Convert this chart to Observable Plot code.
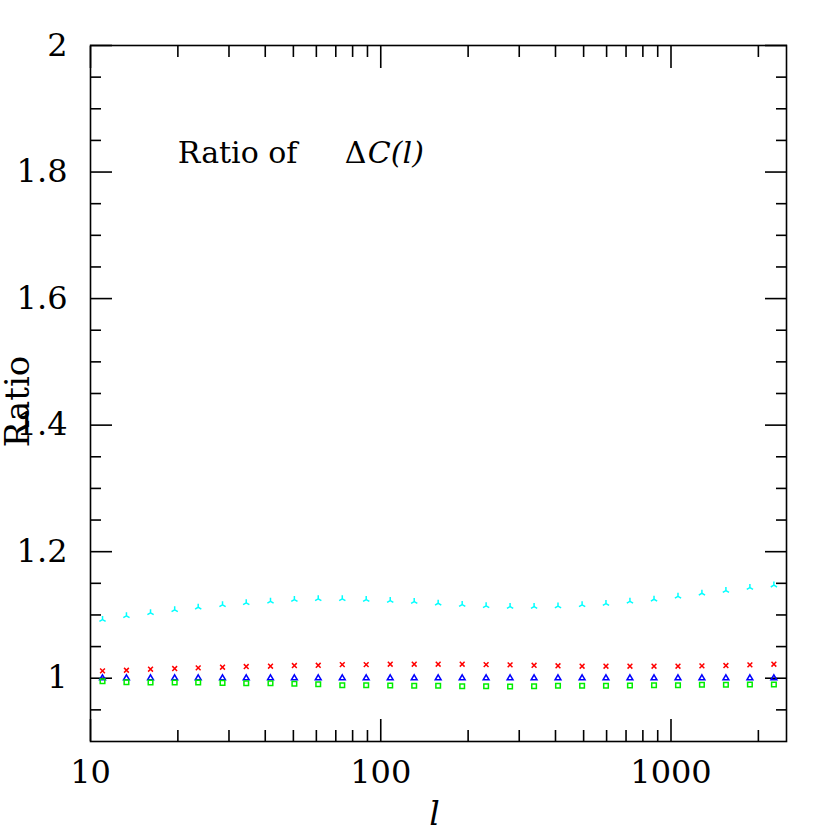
<!DOCTYPE html>
<html><head><meta charset="utf-8">
<script src="https://cdn.jsdelivr.net/npm/d3@7"></script>
<script src="https://cdn.jsdelivr.net/npm/@observablehq/plot@0.6"></script>
<style>body{margin:0;background:#fff;}</style>
</head><body><div id="chart"></div>
<script>
// multipole l values
const ells = [11, 13.3, 16.1, 19.5, 23.5, 28.5, 34.4, 41.7, 50.4, 60.9, 73.7, 89.1, 107.8, 130.4, 157.7, 190.8, 230.7, 279, 337.5, 408, 494, 597, 722, 874, 1057, 1278, 1546, 1870, 2262];
const ratioCyan = [1.0927, 1.0986, 1.1033, 1.108, 1.1122, 1.116, 1.1191, 1.1216, 1.1243, 1.1254, 1.1254, 1.1243, 1.1227, 1.1212, 1.1185, 1.1164, 1.1144, 1.1133, 1.1133, 1.114, 1.116, 1.118, 1.1216, 1.1248, 1.1295, 1.1343, 1.1385, 1.1433, 1.147];
const ratioRed = [1.0117, 1.0126, 1.0142, 1.0153, 1.0164, 1.0174, 1.0185, 1.019, 1.0201, 1.0205, 1.0216, 1.0216, 1.0221, 1.0221, 1.0221, 1.0221, 1.0216, 1.0212, 1.0205, 1.0197, 1.019, 1.019, 1.019, 1.019, 1.019, 1.0196, 1.0201, 1.0212, 1.0221];
const ratioBlue = [1.001, 1.001, 1.001, 1.001, 1.001, 1.001, 1.001, 1.001, 1.001, 1.001, 1.001, 1.001, 1.001, 1.001, 1.001, 1.001, 1.001, 1.001, 1.001, 1.001, 1.001, 1.001, 1.001, 1.001, 1.001, 1.001, 1.001, 1.001, 1.001];
const ratioGreen = [0.9953, 0.9937, 0.9932, 0.9932, 0.9932, 0.9927, 0.9921, 0.9921, 0.9912, 0.9905, 0.9889, 0.9889, 0.9885, 0.988, 0.988, 0.9874, 0.9874, 0.9869, 0.9874, 0.988, 0.988, 0.988, 0.9885, 0.9889, 0.9889, 0.9896, 0.9896, 0.99, 0.99];

const xMajorTicks = [10, 100, 1000];
const xMinorTicks = [20, 30, 40, 50, 60, 70, 80, 90, 200, 300, 400, 500, 600, 700, 800, 900, 2000];
const yMajorTicks = [1, 1.2, 1.4, 1.6, 1.8, 2];
const yMinorTicks = [0.95, 1.05, 1.1, 1.15, 1.25, 1.3, 1.35, 1.45, 1.5, 1.55, 1.65, 1.7, 1.75, 1.85, 1.9, 1.95];
const yLabel = "Ratio";
const xLabel = "l";
const titleParts = ["Ratio of", "Δ", "C(l)"];

const rOf = size => Math.sqrt(size / Math.PI);
const symTri = {draw(c, size) { const r = rOf(size);
  c.moveTo(0, 0); c.lineTo(0, -r);
  c.moveTo(0, 0); c.lineTo(-r * 0.866, r * 0.5);
  c.moveTo(0, 0); c.lineTo(r * 0.866, r * 0.5); }};
const symTimes = {draw(c, size) { const r = rOf(size);
  c.moveTo(-r, -r); c.lineTo(r, r); c.moveTo(-r, r); c.lineTo(r, -r); }};
const symTriangle = {draw(c, size) { const r = rOf(size);
  c.moveTo(0, -r); c.lineTo(r * 1.05, r * 0.8); c.lineTo(-r * 1.05, r * 0.8); c.closePath(); }};
const symSquare = {draw(c, size) { const r = rOf(size);
  c.rect(-r, -r, 2 * r, 2 * r); }};

const series = [
  {values: ratioCyan, color: "#00ffff", symbol: symTri, r: 3.6},
  {values: ratioRed, color: "#ff0000", symbol: symTimes, r: 2.4},
  {values: ratioBlue, color: "#0000ff", symbol: symTriangle, r: 2.8},
  {values: ratioGreen, color: "#00ee00", symbol: symSquare, r: 2.3}
];

const fmt = d => String(d);
const tickW = 1.6;
const tickOnly = (ticks, anchor, size) => (anchor === "top" || anchor === "bottom" ? Plot.axisX : Plot.axisY)(ticks, {anchor, tickSize: -size, fill: "none", label: null, strokeWidth: tickW});

const plot = Plot.plot({
  width: 830, height: 830,
  marginLeft: 90, marginRight: 44, marginTop: 45, marginBottom: 89,
  x: {type: "log", domain: [10, 2500]},
  y: {domain: [0.9, 2]},
  style: {fontFamily: "DejaVu Serif", background: "white", color: "black"},
  marks: [
    // ticks, all four sides, inward
    tickOnly(xMajorTicks, "bottom", 22),
    tickOnly(xMinorTicks, "bottom", 11),
    tickOnly(xMajorTicks, "top", 22),
    tickOnly(xMinorTicks, "top", 11),
    tickOnly(yMajorTicks, "left", 22),
    tickOnly(yMinorTicks, "left", 11),
    tickOnly(yMajorTicks, "right", 22),
    tickOnly(yMinorTicks, "right", 11),
    Plot.axisX(xMajorTicks, {anchor: "bottom", tickSize: 0, tickPadding: 19, fontSize: 32, tickFormat: fmt, label: null}),
    Plot.axisY(yMajorTicks, {anchor: "left", tickSize: 0, tickPadding: 23, fontSize: 32, tickFormat: fmt, label: null}),
    Plot.frame({stroke: "black", strokeWidth: tickW}),
    // axis labels
    Plot.text([yLabel], {frameAnchor: "left", text: d => d, rotate: -90, dx: -72, dy: 8, fontSize: 34, textAnchor: "middle", lineAnchor: "middle"}),
    Plot.text([xLabel], {frameAnchor: "bottom", text: d => d, dx: -4, dy: 73, fontSize: 33, fontStyle: "italic", lineAnchor: "middle"}),
    // in-plot title
    Plot.text([titleParts[0]], {x: () => 20, y: () => 1.8, text: d => d, textAnchor: "start", lineAnchor: "bottom", dy: -9, fontSize: 30}),
    Plot.text([titleParts[1]], {x: () => 20, y: () => 1.8, text: d => d, textAnchor: "start", lineAnchor: "bottom", dx: 167, dy: -9, fontSize: 30}),
    Plot.text([titleParts[2]], {x: () => 20, y: () => 1.8, text: d => d, textAnchor: "start", lineAnchor: "bottom", dx: 190, dy: -9, fontSize: 30, fontStyle: "italic"}),
    // data
    ...series.map(s => Plot.dot(s.values, {x: (d, i) => ells[i], y: d => d, symbol: s.symbol, r: s.r, stroke: s.color, fill: "none", strokeWidth: 1.5}))
  ]
});
document.getElementById("chart").appendChild(plot);
</script>
</body></html>
